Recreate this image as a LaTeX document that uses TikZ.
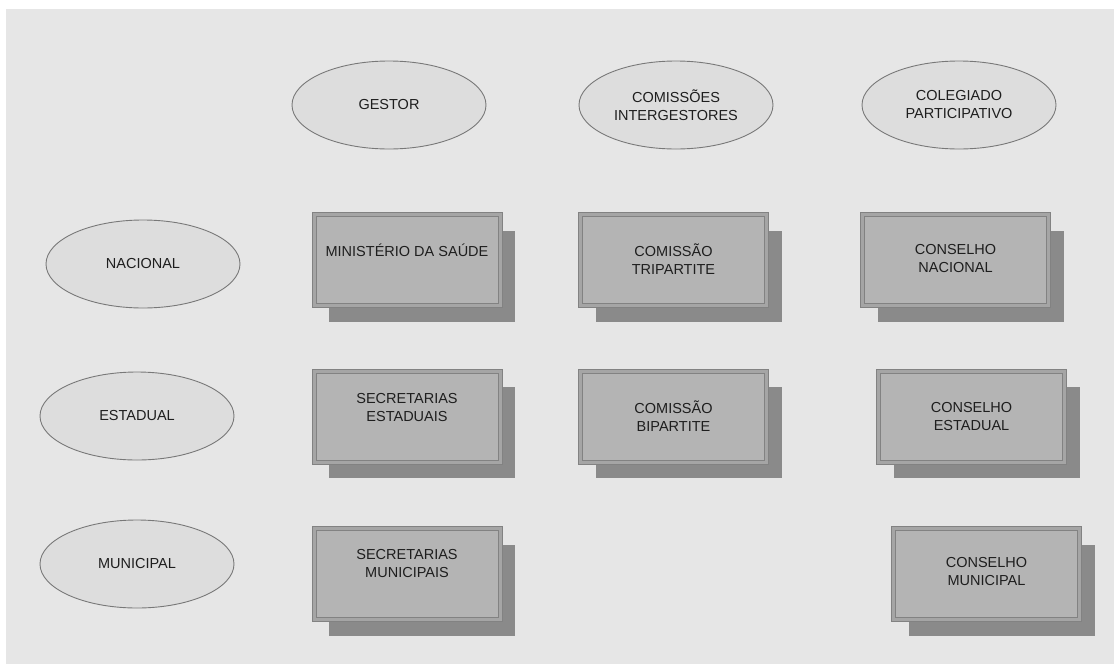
\documentclass[tikz,border=0pt]{standalone}
\usepackage{fontspec}
\setmainfont{Liberation Sans}
\usetikzlibrary{shapes.geometric,shadows}
\definecolor{pagebg}{RGB}{230,230,230}
\definecolor{ellfill}{RGB}{221,221,221}
\definecolor{ellline}{RGB}{120,120,120}
\definecolor{boxfill}{RGB}{180,180,180}
\definecolor{boxline}{RGB}{130,130,130}
\definecolor{boxband}{RGB}{165,165,165}
\definecolor{shadowc}{RGB}{138,138,138}
\definecolor{txt}{RGB}{30,30,30}
\begin{document}
\begin{tikzpicture}[x=1pt,y=-1pt,
  every node/.style={font=\fontsize{14.5}{18}\selectfont, text=txt},
  oval/.style={ellipse, draw=ellline, line width=0.9pt, fill=ellfill,
    minimum width=194pt, minimum height=88pt, inner sep=0pt, align=center},
  unit/.style={rectangle, draw=boxline, line width=1pt, double=boxband,
    double distance=3pt, fill=boxfill, minimum width=186pt, minimum height=91pt,
    inner sep=0pt,
    general shadow={fill=shadowc, shadow xshift=15pt, shadow yshift=-16pt}},
  lbl/.style={align=center, inner sep=0pt}
]
\useasboundingbox (0,0) rectangle (1114,664);
\fill[white] (0,0) rectangle (1114,664);
\fill[pagebg] (6,9) rectangle (1114,664);

% column headers
\node[oval] (gestor) at (389,105) {GESTOR};
\node[oval] (cit) at (676,105) {COMISSÕES\\INTERGESTORES};
\node[oval] (colegiado) at (959,105) {COLEGIADO\\PARTICIPATIVO};

% row headers
\node[oval] (nacional) at (143,264) {NACIONAL};
\node[oval] (estadual) at (137,416) {ESTADUAL};
\node[oval] (municipal) at (137,564) {MUNICIPAL};

% boxes
\node[unit] (ms) at (407,260) {};
\node[unit] (tri) at (673.5,260) {};
\node[unit] (cn) at (955.5,260) {};
\node[unit] (se) at (407,416.5) {};
\node[unit] (bi) at (673.5,416.5) {};
\node[unit] (ce) at (971.5,416.5) {};
\node[unit] (sm) at (407,574) {};
\node[unit] (cm) at (986.5,574) {};

% box labels
\node[lbl] (msl) at ([yshift=10pt]ms.center) {MINISTÉRIO DA SAÚDE};
\node[lbl] (tril) at ([yshift=1pt]tri.center) {COMISSÃO\\TRIPARTITE};
\node[lbl] (cnl) at ([yshift=1pt]cn.center) {CONSELHO\\NACIONAL};
\node[lbl] (sel) at ([yshift=9pt]se.center) {SECRETARIAS\\ESTADUAIS};
\node[lbl] (bil) at ([yshift=0pt]bi.center) {COMISSÃO\\BIPARTITE};
\node[lbl] (cel) at ([yshift=0pt]ce.center) {CONSELHO\\ESTADUAL};
\node[lbl] (sml) at ([yshift=10pt]sm.center) {SECRETARIAS\\MUNICIPAIS};
\node[lbl] (cml) at ([yshift=2pt]cm.center) {CONSELHO\\MUNICIPAL};
\end{tikzpicture}
\end{document}
